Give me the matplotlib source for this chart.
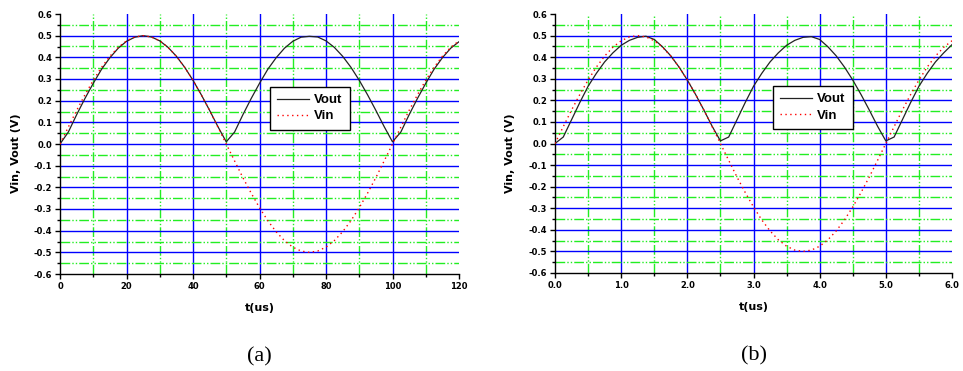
import matplotlib
matplotlib.use("Agg")
import matplotlib.pyplot as plt
from matplotlib.ticker import MultipleLocator, FormatStrFormatter
from matplotlib.font_manager import FontProperties

# ---------------- data ----------------
t_a = [0, 2.5, 5, 7.5, 10, 12.5, 15, 17.5, 20, 22.5, 25, 27.5, 30, 32.5, 35, 37.5, 40, 42.5, 45, 47.5,
       50, 52.5, 55, 57.5, 60, 62.5, 65, 67.5, 70, 72.5, 75, 77.5, 80, 82.5, 85, 87.5, 90, 92.5, 95, 97.5,
       100, 102.5, 105, 107.5, 110, 112.5, 115, 117.5, 120]
vin_a = [0.0, 0.078, 0.155, 0.227, 0.294, 0.354, 0.405, 0.446, 0.476, 0.494, 0.5, 0.494, 0.476, 0.446, 0.405,
         0.354, 0.294, 0.227, 0.155, 0.078, 0.0, -0.078, -0.155, -0.227, -0.294, -0.354, -0.405, -0.446,
         -0.476, -0.494, -0.5, -0.494, -0.476, -0.446, -0.405, -0.354, -0.294, -0.227, -0.155, -0.078,
         0.0, 0.078, 0.155, 0.227, 0.294, 0.354, 0.405, 0.446, 0.476]
vout_a = [0.0, 0.055, 0.135, 0.21, 0.28, 0.345, 0.398, 0.442, 0.474, 0.493, 0.5, 0.494, 0.476, 0.446, 0.405,
          0.354, 0.294, 0.227, 0.155, 0.08, 0.01, 0.055, 0.135, 0.21, 0.28, 0.345, 0.398, 0.442,
          0.474, 0.493, 0.497, 0.494, 0.476, 0.446, 0.405, 0.354, 0.294, 0.227, 0.155, 0.08,
          0.01, 0.055, 0.135, 0.21, 0.28, 0.345, 0.398, 0.442, 0.472]

t_b = [0, 0.125, 0.25, 0.375, 0.5, 0.625, 0.75, 0.875, 1.0, 1.125, 1.25, 1.375, 1.5, 1.625, 1.75, 1.875,
       2.0, 2.125, 2.25, 2.375, 2.5, 2.625, 2.75, 2.875, 3.0, 3.125, 3.25, 3.375, 3.5, 3.625, 3.75, 3.875,
       4.0, 4.125, 4.25, 4.375, 4.5, 4.625, 4.75, 4.875, 5.0, 5.125, 5.25, 5.375, 5.5, 5.625, 5.75, 5.875, 6.0]
vin_b = [0.0, 0.078, 0.155, 0.227, 0.294, 0.354, 0.405, 0.446, 0.476, 0.494, 0.5, 0.494, 0.476, 0.446, 0.405,
         0.354, 0.294, 0.227, 0.155, 0.078, 0.0, -0.078, -0.155, -0.227, -0.294, -0.354, -0.405, -0.446,
         -0.476, -0.494, -0.5, -0.494, -0.476, -0.446, -0.405, -0.354, -0.294, -0.227, -0.155, -0.078,
         0.0, 0.078, 0.155, 0.227, 0.294, 0.354, 0.405, 0.446, 0.476]
vout_b = [0.0, 0.03, 0.11, 0.19, 0.265, 0.325, 0.378, 0.42, 0.455, 0.478, 0.492, 0.497, 0.482, 0.448, 0.406,
          0.354, 0.294, 0.227, 0.155, 0.08, 0.012, 0.03, 0.11, 0.19, 0.265, 0.325, 0.378, 0.42,
          0.455, 0.478, 0.492, 0.495, 0.482, 0.448, 0.406, 0.354, 0.294, 0.227, 0.155, 0.08,
          0.012, 0.03, 0.11, 0.19, 0.265, 0.325, 0.378, 0.42, 0.458]

series_labels = ['Vout', 'Vin']
x_label = 't(us)'
y_label = 'Vin, Vout (V)'
ytick_step = 0.1

panels = [
    dict(t=t_a, vin=vin_a, vout=vout_a, xmax=120, xmaj=20, xmin=10, fmt='%d', tag='(a)',
         rect=[60/963, 1-274/371, 399/963, 260/371], leg=(0.526, 0.72), ylx=-0.097),
    dict(t=t_b, vin=vin_b, vout=vout_b, xmax=6.0, xmaj=1.0, xmin=0.5, fmt='%.1f', tag='(b)',
         rect=[555/963, 1-273/371, 397/963, 259/371], leg=(0.549, 0.722), ylx=-0.10),
]

fig = plt.figure(figsize=(9.63, 3.71), dpi=100)
tickfp = FontProperties(family='DejaVu Sans', size=6, weight='bold')
labfont = dict(family='DejaVu Sans', size=8, weight='bold')
GREEN = '#22ee22'
BLUE = '#0000ff'
gls = (0, (7, 1.5, 1, 1.5, 1, 1.5))

for p in panels:
    ax = fig.add_axes(p['rect'])
    ax.set_xlim(0, p['xmax'])
    ax.set_ylim(-0.6, 0.6)
    ax.xaxis.set_major_locator(MultipleLocator(p['xmaj']))
    ax.xaxis.set_minor_locator(MultipleLocator(p['xmin']))
    ax.yaxis.set_major_locator(MultipleLocator(0.1))
    ax.yaxis.set_minor_locator(MultipleLocator(0.05))
    ax.xaxis.set_major_formatter(FormatStrFormatter(p['fmt']))
    ax.yaxis.set_major_formatter(FormatStrFormatter('%.1f'))
    for s in ('top', 'right'):
        ax.spines[s].set_visible(False)
    for s in ('left', 'bottom'):
        ax.spines[s].set_linewidth(1.0)
    ax.tick_params(which='major', direction='out', length=3.5, width=1, pad=2)
    ax.tick_params(which='minor', direction='out', length=2, width=1)
    for lab in ax.get_xticklabels() + ax.get_yticklabels():
        lab.set_fontproperties(tickfp)

    # grid (skip the limits)
    nmaj = int(round(p['xmax'] / p['xmaj']))
    for i in range(1, nmaj):
        ax.axvline(i * p['xmaj'], color=BLUE, lw=1.0, zorder=0)
    for i in range(nmaj):
        ax.axvline(i * p['xmaj'] + p['xmin'], color=GREEN, lw=1.0, ls=gls, zorder=0)
    for k in range(-5, 6):
        ax.axhline(k * ytick_step, color=BLUE, lw=1.0, zorder=0)
    for k in range(-6, 6):
        ax.axhline(k * ytick_step + 0.05, color=GREEN, lw=1.0, ls=gls, zorder=0)

    ax.plot(p['t'], p['vout'], color='#222222', lw=0.9, label=series_labels[0], zorder=3)
    ax.plot(p['t'], p['vin'], color='#ff0000', lw=1.0, ls=(0, (1, 2.5)), label=series_labels[1], zorder=4)

    leg = ax.legend(loc='upper left', bbox_to_anchor=p['leg'], fancybox=False, framealpha=1,
                    edgecolor='black', prop=dict(family='Liberation Sans', size=9.5, weight='bold'),
                    handlelength=2.4, borderpad=0.55, labelspacing=0.3, handletextpad=0.4,
                    borderaxespad=0)
    leg.get_frame().set_linewidth(1.0)

    ax.set_xlabel(x_label, fontdict=labfont)
    ax.xaxis.set_label_coords(0.5, -0.112)
    ax.set_ylabel(y_label, fontdict=labfont)
    ax.yaxis.set_label_coords(p['ylx'], 0.463)
    ax.text(0.5, -0.32, p['tag'], transform=ax.transAxes, ha='center', va='center',
            family='Liberation Serif', fontsize=16)

fig.savefig('out.png', dpi=100)
